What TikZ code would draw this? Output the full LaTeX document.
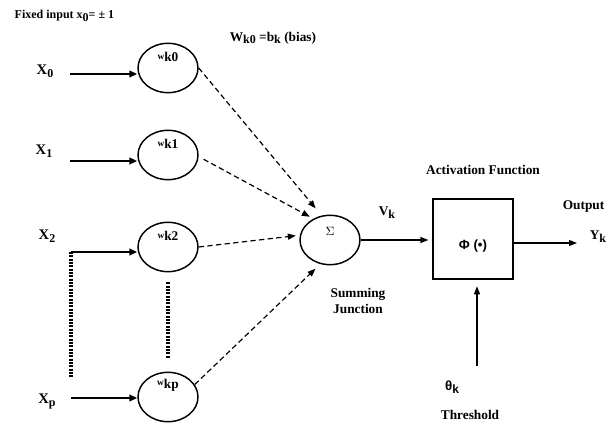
\documentclass[tikz,border=0pt]{standalone}
\usepackage{fontspec}
\setmainfont{Liberation Serif}
\newfontfamily\sansgreek{Liberation Sans}
\usetikzlibrary{
	arrows.meta,
	shapes.geometric
}
\newcommand{\lowsub}[1]{\raisebox{-0.45ex}{\small #1}}
\newcommand{\wlabel}[1]{\raisebox{0.35ex}{\scriptsize w}#1}

\begin{document}
\begin{tikzpicture}[
			x=0.75pt, y=-0.75pt,
			font=\bfseries,
			WeightStyle/.style={draw, ellipse, line width=1.1pt, minimum width=45pt, minimum height=37pt, inner sep=0pt},
			SumStyle/.style={draw, ellipse, line width=1.1pt, minimum width=45pt, minimum height=37pt, inner sep=0pt},
			BoxStyle/.style={draw, line width=0.9pt, minimum size=60pt, inner sep=0pt},
			InputStyle/.style={font=\bfseries\fontsize{11}{13}\selectfont},
			InArrow/.style={line width=1.6pt, -{Triangle[length=6pt, width=5pt]}},
			DashArrow/.style={line width=0.9pt, dash pattern=on 4pt off 2.5pt, -{Triangle[length=6pt, width=4.5pt]}, shorten >=3pt},
			PlainArrow/.style={line width=0.9pt, -{Triangle[length=6pt, width=4.5pt]}},
			DotLine/.style={line width=2.4pt, dash pattern=on 1.5pt off 1pt}]
			\useasboundingbox (0,0) rectangle (610,423);
			% labels on top
			\node [anchor=west, font=\bfseries\small] (fixed) at (10,16) {Fixed input x\lowsub{0}= ± 1};
			\node (bias) at (273,38) {W\lowsub{k0} =b\lowsub{k} (bias)};
			% inputs
			\node [InputStyle] (x0) at (45,71) {X\lowsub{0}};
			\node [InputStyle] (x1) at (44,151) {X\lowsub{1}};
			\node [InputStyle] (x2) at (47,236) {X\lowsub{2}};
			\node [InputStyle] (xp) at (47,401) {X\lowsub{p}};
			\coordinate (in0) at (70,74);
			\coordinate (in1) at (70,161);
			\coordinate (in2) at (71,252);
			\coordinate (inp) at (71,398);
			\coordinate (dotend) at (71,378);
			% weights
			\node [WeightStyle, label={[label distance=-18pt]90:\wlabel{k0}}] (wk0) at (168,68) {};
			\node [WeightStyle, label={[label distance=-18pt]90:\wlabel{k1}}] (wk1) at (168,155) {};
			\node [WeightStyle, label={[label distance=-18pt]90:\wlabel{k2}}] (wk2) at (168,247) {};
			\node [WeightStyle, label={[label distance=-18pt]90:\wlabel{kp}}] (wkp) at (168,397) {};
			\draw [InArrow] (in0) -- (in0 -| wk0.west);
			\draw [InArrow] (in1) -- (in1 -| wk1.west);
			\draw [InArrow] (in2) -- (in2 -| wk2.west);
			\draw [InArrow] (inp) -- (inp -| wkp.west);
			\draw [DotLine] (in2) -- (dotend);
			\draw [DotLine, shorten <=7.5pt, shorten >=10pt] (wk2.south) -- (wkp.north);
			% summing junction
			\node [SumStyle, label={[label distance=-19pt, font=\normalfont\small]90:$\Sigma$}] (sum) at (330,240) {};
			\node [align=center] (sumtext) at (358,301) {Summing\\Junction};
			\draw [DashArrow, shorten >=7pt] (wk0.east) -- (sum.109);
			\draw [DashArrow] ([xshift=4pt]wk1.-8) -- (sum.128);
			\draw [DashArrow] (wk2.east) -- (sum.171);
			\draw [DashArrow, shorten >=5pt] (wkp.25) -- (sum.248);
			% activation
			\node [BoxStyle, label={[label distance=-44pt, font=\sansgreek\bfseries]90:Φ (•)}] (act) at (473,239) {};
			\node (actname) at (483,170) {Activation Function};
			\node (vk) at (387,213) {V\lowsub{k}};
			\draw [PlainArrow, shorten >=3pt] (sum.east) -- (sum.east -| act.west);
			% output and threshold
			\coordinate (out) at (577,243);
			\draw [PlainArrow] (act.east |- out) -- (out);
			\node [anchor=east] (outname) at (609,207) {Output};
			\node (yk) at (598,237) {Y\lowsub{k}};
			\coordinate (th) at (477,366);
			\draw [PlainArrow, shorten >=5pt] (th) -- (th |- act.south);
			\node [font=\sansgreek\bfseries] (theta) at (452,387) {θ\lowsub{k}};
			\node (thname) at (470,415) {Threshold};
\end{tikzpicture}
\end{document}
